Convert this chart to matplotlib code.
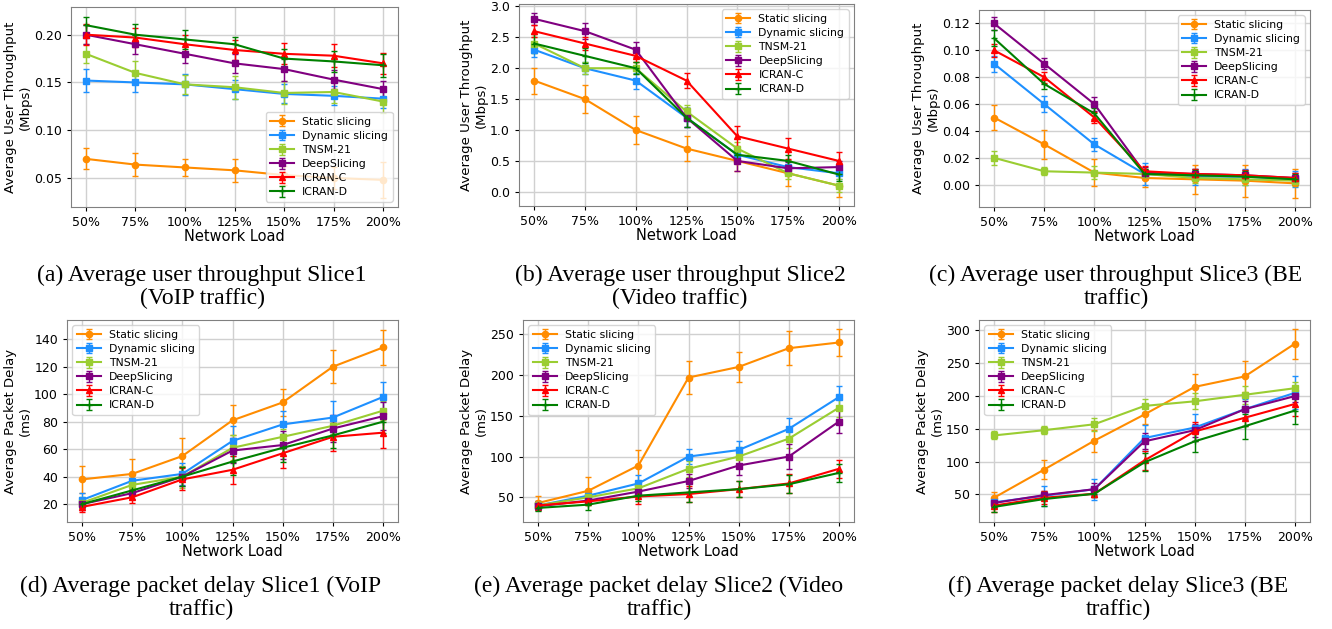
import matplotlib
matplotlib.use("Agg")
import matplotlib.pyplot as plt
import numpy as np

W, H = 1332, 629

loads = ["50%", "75%", "100%", "125%", "150%", "175%", "200%"]
methods = ["Static slicing", "Dynamic slicing", "TNSM-21", "DeepSlicing", "ICRAN-C", "ICRAN-D"]
colors = ["#FF8C00", "#1E90FF", "#9ACD32", "#800080", "#FF0000", "#008000"]
markers = ["o", "s", "s", "s", "^", "+"]

# (a) throughput slice1
thr1 = [
    [0.070, 0.064, 0.061, 0.058, 0.053, 0.050, 0.048],
    [0.152, 0.150, 0.148, 0.143, 0.138, 0.136, 0.133],
    [0.180, 0.160, 0.148, 0.145, 0.139, 0.140, 0.130],
    [0.200, 0.190, 0.180, 0.170, 0.164, 0.153, 0.143],
    [0.200, 0.197, 0.190, 0.184, 0.180, 0.178, 0.170],
    [0.210, 0.200, 0.195, 0.190, 0.175, 0.172, 0.168],
]
thr1_err = [
    [0.011, 0.012, 0.009, 0.012, 0.010, 0.012, 0.019],
    [0.012, 0.010, 0.011, 0.010, 0.010, 0.010, 0.010],
    [0.010, 0.012, 0.010, 0.012, 0.012, 0.012, 0.012],
    [0.010, 0.010, 0.010, 0.010, 0.012, 0.010, 0.008],
    [0.011, 0.010, 0.010, 0.010, 0.011, 0.012, 0.011],
    [0.009, 0.011, 0.010, 0.008, 0.010, 0.011, 0.012],
]

# (b) throughput slice2
thr2 = [
    [1.8, 1.5, 1.0, 0.7, 0.5, 0.3, 0.1],
    [2.3, 2.0, 1.8, 1.2, 0.6, 0.4, 0.3],
    [2.4, 2.0, 2.0, 1.3, 0.7, 0.3, 0.1],
    [2.8, 2.6, 2.3, 1.2, 0.5, 0.38, 0.4],
    [2.6, 2.4, 2.2, 1.8, 0.9, 0.7, 0.5],
    [2.4, 2.2, 2.0, 1.2, 0.6, 0.5, 0.28],
]
thr2_err = [
    [0.21, 0.23, 0.23, 0.20, 0.17, 0.21, 0.18],
    [0.12, 0.10, 0.13, 0.15, 0.10, 0.10, 0.10],
    [0.10, 0.10, 0.10, 0.10, 0.10, 0.10, 0.10],
    [0.10, 0.13, 0.12, 0.15, 0.17, 0.10, 0.10],
    [0.10, 0.10, 0.10, 0.12, 0.16, 0.17, 0.15],
    [0.15, 0.12, 0.10, 0.15, 0.10, 0.10, 0.10],
]

# (c) throughput slice3
thr3 = [
    [0.050, 0.030, 0.009, 0.005, 0.004, 0.003, 0.001],
    [0.090, 0.060, 0.030, 0.008, 0.006, 0.006, 0.004],
    [0.020, 0.010, 0.009, 0.008, 0.005, 0.004, 0.003],
    [0.120, 0.090, 0.060, 0.009, 0.008, 0.007, 0.005],
    [0.100, 0.080, 0.050, 0.010, 0.008, 0.007, 0.005],
    [0.109, 0.075, 0.053, 0.008, 0.007, 0.006, 0.004],
]
thr3_err = [
    [0.009, 0.011, 0.010, 0.007, 0.011, 0.012, 0.011],
    [0.006, 0.006, 0.005, 0.008, 0.006, 0.006, 0.006],
    [0.005, 0.003, 0.005, 0.004, 0.004, 0.004, 0.004],
    [0.005, 0.004, 0.005, 0.004, 0.004, 0.004, 0.004],
    [0.005, 0.004, 0.004, 0.004, 0.004, 0.004, 0.004],
    [0.006, 0.004, 0.004, 0.004, 0.004, 0.004, 0.004],
]

# (d) delay slice1
dly1 = [
    [38, 42, 55, 81, 94, 120, 134],
    [23, 37, 42, 66, 78, 83, 98],
    [21, 34, 40, 61, 69, 77, 88],
    [20, 28, 40, 59, 63, 75, 84],
    [18, 25, 38, 45, 57, 69, 72],
    [20, 30, 40, 51, 61, 70, 80],
]
dly1_err = [
    [10, 11, 13, 11, 10, 12, 13],
    [5, 4, 8, 11, 10, 12, 11],
    [4, 4, 8, 9, 6, 6, 7],
    [4, 4, 7, 9, 10, 10, 10],
    [4, 4, 8, 10, 11, 10, 11],
    [3, 3, 7, 10, 10, 9, 8],
]

# (e) delay slice2
dly2 = [
    [43, 58, 89, 197, 210, 233, 240],
    [40, 52, 67, 100, 108, 134, 173],
    [40, 50, 61, 85, 100, 122, 160],
    [39, 46, 57, 70, 89, 100, 143],
    [40, 45, 51, 54, 60, 67, 85],
    [37, 41, 52, 56, 60, 66, 80],
]
dly2_err = [
    [8, 17, 19, 20, 18, 21, 17],
    [6, 5, 10, 9, 11, 13, 14],
    [5, 4, 6, 10, 12, 12, 12],
    [5, 4, 5, 8, 12, 15, 14],
    [6, 5, 9, 10, 10, 12, 11],
    [4, 7, 7, 12, 10, 11, 11],
]

# (f) delay slice3
dly3 = [
    [45, 88, 132, 172, 214, 230, 280],
    [38, 48, 58, 136, 152, 180, 205],
    [140, 148, 157, 185, 192, 202, 212],
    [37, 49, 58, 131, 148, 180, 200],
    [33, 45, 51, 102, 146, 167, 188],
    [31, 43, 51, 99, 131, 154, 178],
]
dly3_err = [
    [9, 15, 17, 15, 20, 24, 23],
    [7, 15, 16, 20, 20, 15, 25],
    [6, 6, 10, 10, 12, 14, 10],
    [8, 6, 9, 12, 10, 13, 9],
    [9, 10, 5, 15, 15, 12, 18],
    [8, 10, 5, 14, 17, 19, 20],
]

captions = [
    "(a) Average user throughput Slice1\n(VoIP traffic)",
    "(b) Average user throughput Slice2\n(Video traffic)",
    "(c) Average user throughput Slice3 (BE\ntraffic)",
    "(d) Average packet delay Slice1 (VoIP\ntraffic)",
    "(e) Average packet delay Slice2 (Video\ntraffic)",
    "(f) Average packet delay Slice3 (BE\ntraffic)",
]

# panel boxes in pixels: left, top, right, bottom
boxes = [
    (71, 7, 398, 207), (519, 4, 854, 206), (979, 10, 1310, 207),
    (67, 320, 398, 522), (523, 320, 854, 522), (979, 320, 1310, 522),
]
ylims = [(0.0196, 0.229), (-0.23, 3.04), (-0.0166, 0.130),
         (7, 154), (19.7, 267.6), (8, 316)]
yticks = [
    [0.05, 0.10, 0.15, 0.20],
    [0.0, 0.5, 1.0, 1.5, 2.0, 2.5, 3.0],
    [0.00, 0.02, 0.04, 0.06, 0.08, 0.10, 0.12],
    [20, 40, 60, 80, 100, 120, 140],
    [50, 100, 150, 200, 250],
    [50, 100, 150, 200, 250, 300],
]
yfmt = ["{:.2f}", "{:.1f}", "{:.2f}", "{:d}", "{:d}", "{:d}"]
ylabels = ["Average User Throughput\n(Mbps)"] * 3 + ["Average Packet Delay\n(ms)"] * 3
legend_locs = ["lower right", "upper right", "upper right",
               "upper left", "upper left", "upper left"]
cap_pos = [(202, 287), (680, 287), (1116, 287), (201, 598), (659, 598), (1118, 598)]

datasets = [(thr1, thr1_err), (thr2, thr2_err), (thr3, thr3_err),
            (dly1, dly1_err), (dly2, dly2_err), (dly3, dly3_err)]

fig = plt.figure(figsize=(W / 100, H / 100), dpi=100)

for i, (vals, errs) in enumerate(datasets):
    l, t, r, b = boxes[i]
    ax = fig.add_axes([l / W, 1 - b / H, (r - l) / W, (b - t) / H])
    x = np.arange(len(loads))
    for k, name in enumerate(methods):
        ax.errorbar(x, vals[k], yerr=errs[k], color=colors[k], marker=markers[k],
                    markersize=4.5, linewidth=1.5, capsize=2.5, elinewidth=1,
                    label=name)
    ax.set_xticks(x)
    ax.set_xticklabels(loads)
    ax.set_yticks(yticks[i])
    ax.set_yticklabels([yfmt[i].format(v) for v in yticks[i]])
    ax.set_ylim(*ylims[i])
    ax.set_xlim(-0.3, 6.3)
    ax.grid(True, color="#d0d0d0", linewidth=1)
    ax.set_axisbelow(True)
    ax.tick_params(labelsize=9, length=3)
    ax.set_xlabel("Network Load", fontsize=10.5, labelpad=0)
    ax.set_ylabel(ylabels[i], fontsize=9.5, labelpad=1.5)
    for s in ax.spines.values():
        s.set_color("#808080")
    ax.legend(loc=legend_locs[i], fontsize=7.8, handlelength=2.2,
              borderpad=0.4, labelspacing=0.38)
    cx, cy = cap_pos[i]
    fig.text(cx / W, 1 - cy / H, captions[i], ha="center", va="center",
             family="Liberation Serif", fontsize=17, linespacing=1.12)

fig.savefig("out.png", dpi=100, facecolor="white")
